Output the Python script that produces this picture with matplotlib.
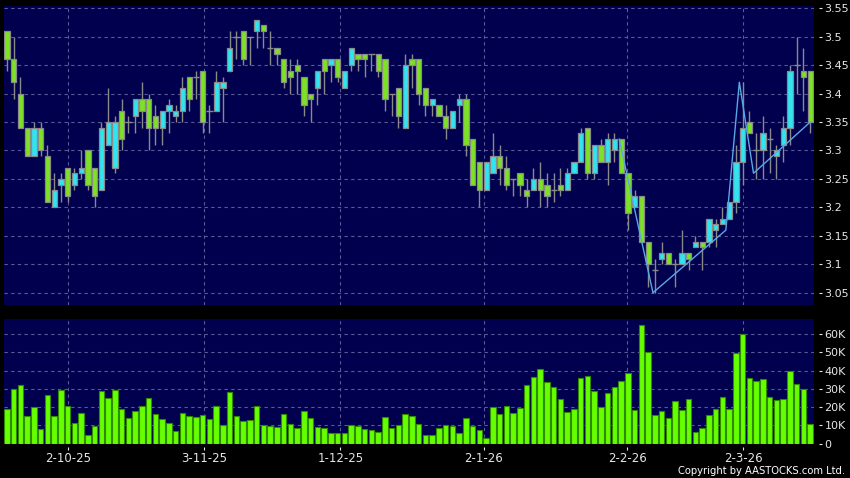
import matplotlib
matplotlib.use("Agg")
import matplotlib.pyplot as plt
import numpy as np

# daily bars, oldest first
opens = [3.51, 3.46, 3.40, 3.34, 3.29, 3.34, 3.29, 3.20, 3.24, 3.27,
         3.24, 3.26, 3.30, 3.27, 3.23, 3.31, 3.27, 3.37, 3.35, 3.36,
         3.39, 3.39, 3.36, 3.34, 3.37, 3.36, 3.37, 3.43, 3.43, 3.44,
         3.37, 3.37, 3.41, 3.44, 3.50, 3.51, 3.50, 3.51, 3.52, 3.48,
         3.48, 3.46, 3.44, 3.45, 3.43, 3.40, 3.41, 3.46, 3.45, 3.46,
         3.41, 3.45, 3.47, 3.47, 3.47, 3.47, 3.46, 3.40, 3.41, 3.34,
         3.46, 3.46, 3.41, 3.38, 3.38, 3.36, 3.34, 3.38, 3.39, 3.32,
         3.28, 3.23, 3.26, 3.29, 3.27, 3.25, 3.26, 3.23, 3.23, 3.25,
         3.24, 3.23, 3.24, 3.23, 3.26, 3.28, 3.34, 3.26, 3.31, 3.28,
         3.30, 3.32, 3.26, 3.20, 3.22, 3.14, 3.09, 3.11, 3.12, 3.10,
         3.10, 3.12, 3.13, 3.14, 3.14, 3.16, 3.17, 3.18, 3.21, 3.28,
         3.35, 3.30, 3.30, 3.32, 3.29, 3.31, 3.34, 3.45, 3.44, 3.44]
highs = [3.51, 3.50, 3.43, 3.34, 3.35, 3.35, 3.31, 3.26, 3.26, 3.27,
         3.27, 3.30, 3.30, 3.27, 3.35, 3.41, 3.36, 3.39, 3.36, 3.39,
         3.42, 3.40, 3.38, 3.37, 3.39, 3.38, 3.43, 3.43, 3.44, 3.44,
         3.38, 3.44, 3.43, 3.51, 3.51, 3.51, 3.50, 3.53, 3.52, 3.51,
         3.48, 3.46, 3.46, 3.46, 3.43, 3.40, 3.44, 3.46, 3.46, 3.46,
         3.44, 3.48, 3.47, 3.47, 3.47, 3.47, 3.46, 3.40, 3.41, 3.47,
         3.47, 3.46, 3.41, 3.39, 3.38, 3.38, 3.37, 3.40, 3.40, 3.32,
         3.28, 3.28, 3.33, 3.31, 3.29, 3.25, 3.26, 3.25, 3.27, 3.28,
         3.26, 3.26, 3.27, 3.27, 3.28, 3.34, 3.34, 3.31, 3.32, 3.33,
         3.33, 3.32, 3.26, 3.23, 3.22, 3.14, 3.11, 3.14, 3.12, 3.11,
         3.16, 3.12, 3.15, 3.14, 3.18, 3.18, 3.20, 3.21, 3.31, 3.42,
         3.37, 3.33, 3.36, 3.34, 3.31, 3.36, 3.45, 3.50, 3.48, 3.44]
lows = [3.44, 3.39, 3.34, 3.29, 3.29, 3.29, 3.21, 3.20, 3.21, 3.21,
        3.23, 3.25, 3.23, 3.20, 3.23, 3.31, 3.26, 3.30, 3.33, 3.33,
        3.34, 3.30, 3.31, 3.31, 3.33, 3.35, 3.35, 3.37, 3.39, 3.33,
        3.33, 3.37, 3.35, 3.44, 3.46, 3.45, 3.45, 3.48, 3.48, 3.45,
        3.45, 3.41, 3.40, 3.40, 3.36, 3.35, 3.38, 3.40, 3.42, 3.42,
        3.41, 3.44, 3.44, 3.43, 3.44, 3.43, 3.37, 3.36, 3.34, 3.34,
        3.41, 3.38, 3.36, 3.36, 3.36, 3.32, 3.34, 3.35, 3.29, 3.24,
        3.20, 3.23, 3.26, 3.24, 3.23, 3.22, 3.22, 3.20, 3.23, 3.20,
        3.20, 3.21, 3.22, 3.23, 3.26, 3.28, 3.25, 3.25, 3.28, 3.24,
        3.28, 3.26, 3.16, 3.20, 3.14, 3.06, 3.05, 3.10, 3.10, 3.06,
        3.10, 3.09, 3.13, 3.09, 3.13, 3.13, 3.17, 3.18, 3.19, 3.24,
        3.33, 3.25, 3.25, 3.26, 3.25, 3.28, 3.31, 3.40, 3.37, 3.33]
closes = [3.46, 3.42, 3.34, 3.29, 3.34, 3.30, 3.21, 3.23, 3.25, 3.22,
          3.26, 3.27, 3.24, 3.22, 3.34, 3.35, 3.35, 3.32, 3.35, 3.39,
          3.37, 3.34, 3.34, 3.37, 3.38, 3.37, 3.41, 3.39, 3.43, 3.35,
          3.37, 3.42, 3.42, 3.48, 3.50, 3.46, 3.50, 3.53, 3.51, 3.48,
          3.47, 3.42, 3.43, 3.44, 3.38, 3.39, 3.44, 3.44, 3.46, 3.43,
          3.44, 3.48, 3.46, 3.46, 3.47, 3.44, 3.39, 3.40, 3.36, 3.45,
          3.45, 3.40, 3.38, 3.39, 3.36, 3.34, 3.37, 3.39, 3.31, 3.24,
          3.23, 3.28, 3.29, 3.27, 3.24, 3.25, 3.24, 3.22, 3.25, 3.23,
          3.22, 3.23, 3.23, 3.26, 3.28, 3.33, 3.26, 3.31, 3.28, 3.32,
          3.32, 3.26, 3.19, 3.22, 3.14, 3.10, 3.09, 3.12, 3.10, 3.10,
          3.12, 3.11, 3.14, 3.13, 3.18, 3.17, 3.18, 3.21, 3.28, 3.34,
          3.33, 3.30, 3.33, 3.32, 3.30, 3.34, 3.44, 3.45, 3.43, 3.35]
volumes_k = [19.1, 29.7, 32.1, 15.0, 20.0, 7.7, 26.4, 15.0, 29.2, 20.4,
             11.4, 16.5, 4.4, 9.5, 28.8, 25.1, 29.2, 19.1, 14.1, 17.8,
             20.7, 24.8, 16.3, 13.2, 11.2, 6.6, 16.5, 15.0, 14.5, 15.8,
             13.4, 20.4, 10.1, 28.1, 14.9, 12.5, 12.8, 20.6, 9.9, 9.7,
             9.2, 16.1, 10.6, 8.6, 18.0, 13.9, 9.2, 8.4, 5.7, 5.7,
             5.5, 10.1, 9.7, 7.9, 7.2, 6.2, 14.5, 8.6, 10.1, 16.1,
             15.2, 10.5, 4.6, 4.6, 8.3, 10.1, 9.4, 5.5, 13.8, 9.7,
             7.3, 3.1, 19.8, 16.0, 20.7, 16.7, 19.4, 32.1, 36.3, 40.9,
             33.8, 30.8, 24.6, 17.2, 18.7, 36.1, 37.1, 29.0, 20.0, 27.7,
             30.8, 34.5, 38.5, 18.3, 65.1, 50.1, 15.6, 17.8, 13.9, 23.1,
             18.3, 24.2, 6.1, 8.3, 15.8, 19.1, 25.3, 18.9, 49.5, 60.0,
             35.8, 34.3, 35.2, 25.7, 23.9, 24.2, 39.8, 32.5, 29.9, 10.6]

# swing line (bar position, price)
zig_pos = [90.7, 95.7, 106.5, 108.5, 110.6, 119.0]
zig_price = [3.32, 3.05, 3.16, 3.42, 3.26, 3.35]

date_pos = [9.1, 29.2, 49.4, 70.6, 91.9, 109.1]
date_labels = ["2-10-25", "3-11-25", "1-12-25", "2-1-26", "2-2-26", "2-3-26"]

price_ticks = [3.05, 3.1, 3.15, 3.2, 3.25, 3.3, 3.35, 3.4, 3.45, 3.5, 3.55]
vol_ticks = [0, 10, 20, 30, 40, 50, 60]

NAVY = "#00004e"
GRID = "#5a5a96"
GREEN = "#7ee224"
CYAN = "#30e4f2"
EDGE = "#8a8a8a"
TXT = "#e6e6e6"

o = np.array(opens); h = np.array(highs); l = np.array(lows); c = np.array(closes)
x = np.arange(len(o))

fig = plt.figure(figsize=(8.5, 4.78), dpi=100, facecolor="black")
ax1 = fig.add_axes([4 / 850, 1 - 305 / 478, 810 / 850, 299 / 478])
ax2 = fig.add_axes([4 / 850, 1 - 443.5 / 478, 810 / 850, 124.5 / 478])

xlim = (-0.44, 119.56)
for ax in (ax1, ax2):
    ax.set_facecolor(NAVY)
    ax.set_xlim(*xlim)
    for s in ("top", "left", "bottom"):
        ax.spines[s].set_visible(False)
    ax.spines["right"].set_position(("outward", 3.6))
    ax.spines["right"].set_visible(False)
    ax.yaxis.tick_right()
    ax.tick_params(axis="y", colors=TXT, labelsize=8, length=2.5, width=0.8, pad=1.5)
    ax.set_axisbelow(True)
    for p in date_pos:
        ax.axvline(p, color=GRID, lw=0.8, ls=(0, (3, 3)), zorder=0)

# price panel
ax1.set_ylim(3.0284, 3.554)
ax1.set_yticks(price_ticks)
ax1.set_yticklabels([f"{v:g}" for v in price_ticks])
for v in price_ticks:
    ax1.axhline(v, color=GRID, lw=0.8, ls=(0, (3, 3)), zorder=0)
ax1.set_xticks([])

ax1.vlines(x, l, h, color=EDGE, lw=1, zorder=2)
up = c > o
dn = c < o
eq = c == o
ax1.bar(x[up], (c - o)[up], bottom=o[up], width=0.8, color=CYAN,
        edgecolor=EDGE, linewidth=0.9, zorder=3)
ax1.bar(x[dn], (o - c)[dn], bottom=c[dn], width=0.8, color=GREEN,
        edgecolor=EDGE, linewidth=0.9, zorder=3)
ax1.hlines(c[eq], x[eq] - 0.45, x[eq] + 0.45, color=EDGE, lw=1, zorder=3)
ax1.plot(zig_pos, zig_price, color="#5aa8e6", lw=1, zorder=4)

# volume panel
ax2.set_ylim(0, 68.4)
ax2.set_yticks(vol_ticks)
ax2.set_yticklabels(["0"] + [f"{v}K" for v in vol_ticks[1:]])
for v in vol_ticks[1:]:
    ax2.axhline(v, color=GRID, lw=0.8, ls=(0, (3, 3)), zorder=0)
ax2.bar(x, volumes_k, width=0.82, color="#66ff00", edgecolor="#2f8a00",
        linewidth=0.8, zorder=3)
ax2.spines["bottom"].set_position(("outward", 2.5))
ax2.set_xticks(date_pos)
ax2.set_xticklabels(date_labels)
ax2.tick_params(axis="x", colors=TXT, labelsize=8.5, length=2, width=0.8, pad=1.5)

fig.text(845 / 850, 1 - 471 / 478, "Copyright by AASTOCKS.com Ltd.", color="white",
         fontsize=7.2, ha="right", va="center")

fig.savefig("out.png", dpi=100, facecolor="black")
